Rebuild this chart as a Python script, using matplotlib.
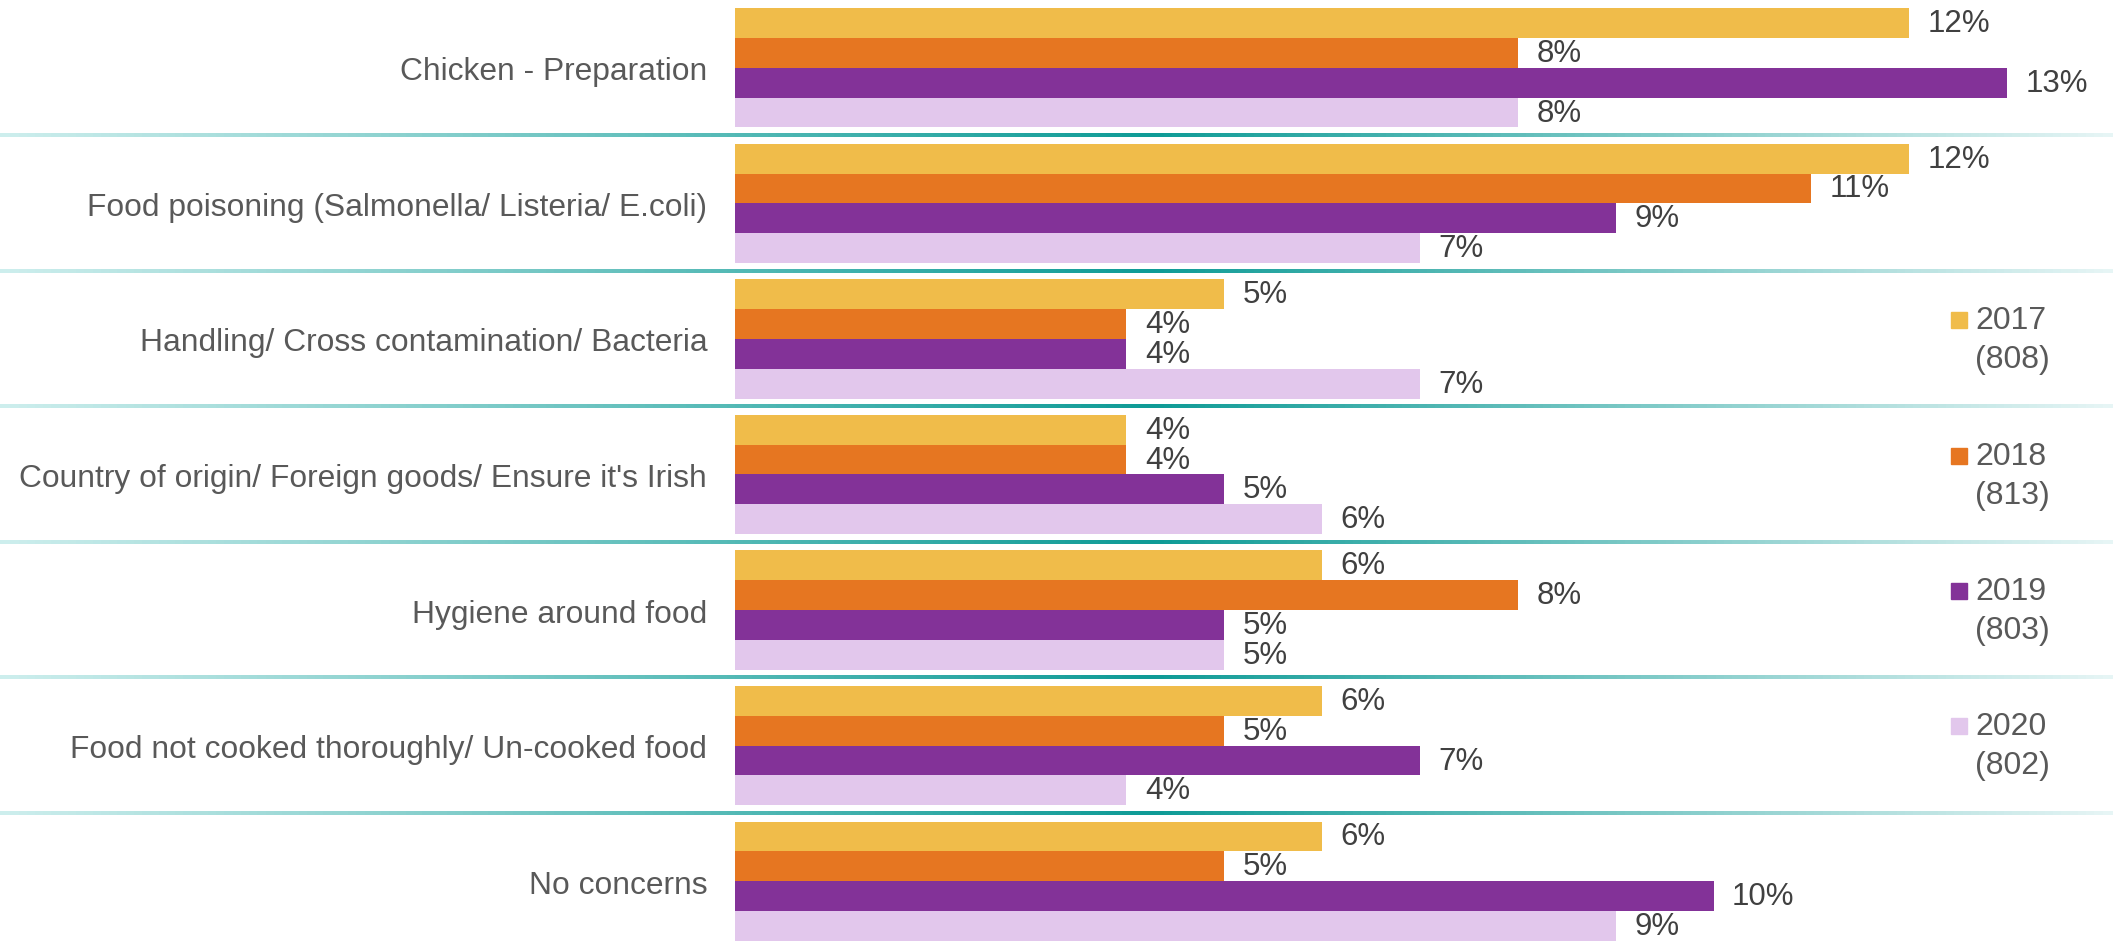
import numpy as np
import matplotlib
matplotlib.use("Agg")
import matplotlib.pyplot as plt
from matplotlib.colors import LinearSegmentedColormap

plt.rcParams["font.family"] = ["Liberation Sans", "DejaVu Sans"]

# data
categories = [
    "Chicken - Preparation",
    "Food poisoning (Salmonella/ Listeria/ E.coli)",
    "Handling/ Cross contamination/ Bacteria",
    "Country of origin/ Foreign goods/ Ensure it's Irish",
    "Hygiene around food",
    "Food not cooked thoroughly/ Un-cooked food",
    "No concerns",
]
years = ["2017", "2018", "2019", "2020"]
bases = ["(808)", "(813)", "(803)", "(802)"]
v2017 = [12, 12, 5, 4, 6, 6, 6]
v2018 = [8, 11, 4, 4, 8, 5, 5]
v2019 = [13, 9, 4, 5, 5, 7, 10]
v2020 = [8, 7, 7, 6, 5, 4, 9]
series = [v2017, v2018, v2019, v2020]
colors = ["#F0BC4A", "#E67621", "#833298", "#E2C7EC"]

W, H = 2113, 945
fig = plt.figure(figsize=(W / 100, H / 100), dpi=100)
ylim = ((H - 66) / 136, -69 / 136)

# background axes over the whole figure for the gradient separators
bg = fig.add_axes([0, 0, 1, 1], zorder=0)
bg.set_xlim(0, 1)
bg.set_ylim(*ylim)
bg.axis("off")
cmap = LinearSegmentedColormap.from_list(
    "teal", [(0, "#cdeeed"), (0.545, "#0e9b96"), (1, "#e6f5f5")])
grad = np.linspace(0, 1, 512)[None, :]
half = 1.6 / 136
for sep in np.arange(len(categories) - 1) + 0.5:
    bg.imshow(grad, cmap=cmap, aspect="auto", interpolation="bilinear",
              extent=(0, 1, sep + half, sep - half))
bg.set_xlim(0, 1)
bg.set_ylim(*ylim)

ax = fig.add_axes([735 / W, 0, 1 - 735 / W, 1], zorder=1)
ax.patch.set_alpha(0)

y = np.arange(len(categories))
bar_h = 0.22
for i, (vals, col) in enumerate(zip(series, colors)):
    ypos = y + (i - 1.5) * bar_h
    ax.barh(ypos, vals, height=bar_h, color=col, linewidth=0)
    for yy, v in zip(ypos, vals):
        ax.text(v + 0.19, yy, f"{v}%", va="center", ha="left",
                fontsize=22.5, color="#404040")

ax.set_xlim(0, (W - 735) / 97.85)
ax.set_ylim(*ylim)
ax.set_yticks(y)
ax.set_yticklabels(categories, fontsize=22.9, color="#595959")
ax.tick_params(axis="y", length=0, pad=20)
ax.set_xticks([])
for s in ax.spines.values():
    s.set_visible(False)

# legend
leg_y = [321, 457, 592, 727]
for yr, base, col, ly in zip(years, bases, colors, leg_y):
    fig.patches.append(plt.Rectangle((1951 / W, 1 - (ly + 8) / H), 16 / W, 16 / H,
                                     transform=fig.transFigure, color=col))
    fig.text(1975 / W, 1 - ly / H, yr, fontsize=23, color="#595959", va="center")
    fig.text(1975 / W, 1 - (ly + 39) / H, base, fontsize=23, color="#595959", va="center")

fig.savefig("out.png", dpi=100, facecolor="white")
